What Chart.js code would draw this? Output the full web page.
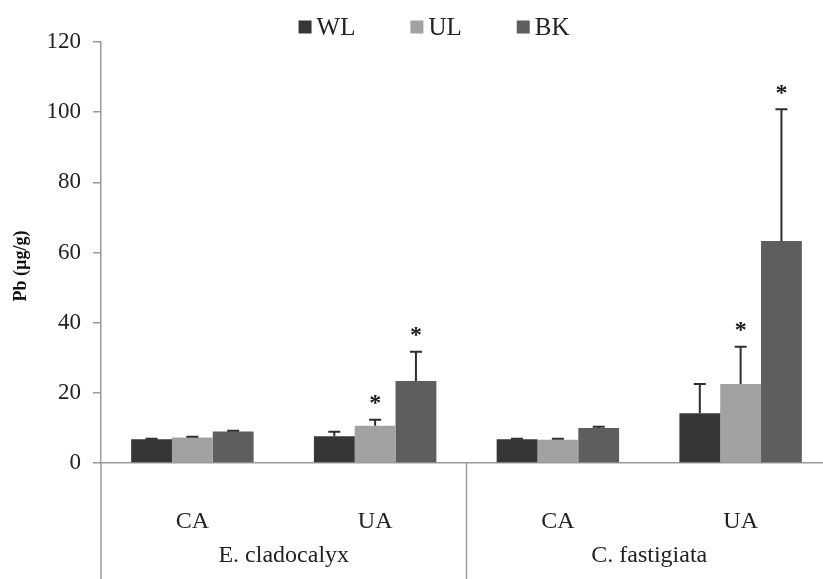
<!DOCTYPE html>
<html>
<head>
<meta charset="utf-8">
<script src="https://cdn.jsdelivr.net/npm/chart.js@4.4.0/dist/chart.umd.min.js"></script>
<style>
  html, body { margin: 0; padding: 0; background: #fff; overflow: hidden; }
  #wrap { width: 832px; height: 579px; position: relative; }
</style>
</head>
<body>
<div id="wrap"><canvas id="myChart"></canvas></div>
<script>
// sites within each species, and the species groups underneath
const sites = ['CA', 'UA', 'CA', 'UA'];
const species = ['E. cladocalyx', 'C. fastigiata'];
const yTicks = [0, 20, 40, 60, 80, 100, 120];

// Pb (µg/g) per tissue
const wl = [6.8, 7.6, 6.8, 14.2];
const ul = [7.3, 10.6, 6.6, 22.5];
const bk = [9.0, 23.4, 10.0, 63.3];

// error bar (upper half only)
const wlErr = [0.1, 1.3, 0.1, 8.3];
const ulErr = [0.2, 1.7, 0.3, 10.6];
const bkErr = [0.2, 8.3, 0.3, 37.5];

// significance marks
const wlStar = [0, 0, 0, 0];
const ulStar = [0, 1, 0, 1];
const bkStar = [0, 1, 0, 1];

const serif = '"Liberation Serif", "DejaVu Serif", serif';
const axisGrey = '#9a9a9a';

const errorBars = {
    id: 'errorBars',
    afterDatasetsDraw(chart) {
        const ctx = chart.ctx;
        const yScale = chart.scales.y;
        chart.data.datasets.forEach((ds, di) => {
            const meta = chart.getDatasetMeta(di);
            meta.data.forEach((bar, i) => {
                const top = yScale.getPixelForValue(ds.data[i] + ds.err[i]);
                ctx.save();
                ctx.strokeStyle = '#2e2e2e';
                ctx.lineWidth = 2;
                ctx.beginPath();
                ctx.moveTo(bar.x, bar.y);
                ctx.lineTo(bar.x, top);
                ctx.moveTo(bar.x - 6, top);
                ctx.lineTo(bar.x + 6, top);
                ctx.stroke();
                if (ds.star[i]) {
                    ctx.fillStyle = '#1a1a1a';
                    ctx.font = 'bold 24px ' + serif;
                    ctx.textAlign = 'center';
                    ctx.textBaseline = 'middle';
                    ctx.fillText('*', bar.x, top - 16);
                }
                ctx.restore();
            });
        });
    }
};

// legend, y title, species row and the group separators
const extras = {
    id: 'extras',
    afterDraw(chart) {
        const ctx = chart.ctx;
        const area = chart.chartArea;
        const bottom = chart.height;
        ctx.save();

        // legend
        ctx.font = '25px ' + serif;
        ctx.textBaseline = 'middle';
        ctx.textAlign = 'left';
        const box = 13, gap = 5, space = 55;
        const items = chart.data.datasets.map(ds => ({ ds, w: box + gap + ctx.measureText(ds.label).width }));
        const total = items.reduce((s, it) => s + it.w, 0) + space * (items.length - 1);
        let lx = 434 - total / 2;
        items.forEach(it => {
            ctx.fillStyle = it.ds.backgroundColor;
            ctx.fillRect(lx, 27 - box / 2, box, box);
            ctx.fillStyle = '#222';
            ctx.fillText(it.ds.label, lx + box + gap, 28);
            lx += it.w + space;
        });

        // y title
        ctx.save();
        ctx.translate(21, 266);
        ctx.rotate(-Math.PI / 2);
        ctx.textAlign = 'center';
        ctx.fillStyle = '#111';
        ctx.font = 'bold 18px ' + serif;
        ctx.fillText('Pb (µg/g)', 0, 0);
        ctx.restore();

        // group separators
        ctx.strokeStyle = axisGrey;
        ctx.lineWidth = 1.5;
        ctx.beginPath();
        ctx.moveTo(area.left, area.bottom);
        ctx.lineTo(area.left, bottom);
        const step = (area.right - area.left) / sites.length;
        for (let g = 1; g < species.length; g++) {
            const sx = area.left + step * 2 * g;
            ctx.moveTo(sx, area.bottom);
            ctx.lineTo(sx, bottom);
        }
        ctx.stroke();

        // species labels
        ctx.fillStyle = '#222';
        ctx.font = '24px ' + serif;
        ctx.textAlign = 'center';
        species.forEach((name, g) => {
            const cx = area.left + step * (2 * g + 1);
            ctx.fillText(name, cx, area.bottom + 93);
        });
        ctx.restore();
    }
};

const ctx = document.getElementById('myChart').getContext('2d');
const myChart = new Chart(ctx, {
    type: 'bar',
    data: {
        labels: sites,
        datasets: [
            { label: 'WL', data: wl, err: wlErr, star: wlStar, backgroundColor: '#363636' },
            { label: 'UL', data: ul, err: ulErr, star: ulStar, backgroundColor: '#a2a2a2' },
            { label: 'BK', data: bk, err: bkErr, star: bkStar, backgroundColor: '#5e5e5e' }
        ]
    },
    options: {
        responsive: true,
        maintainAspectRatio: false,
        animation: false,
        layout: { padding: { top: 42, right: 0, left: 0, bottom: 0 } },
        datasets: {
            bar: { categoryPercentage: 0.67, barPercentage: 1.0 }
        },
        plugins: {
            tooltip: { enabled: false },
            legend: { display: false }
        },
        scales: {
            x: {
                grid: { display: false, drawTicks: false },
                border: { color: axisGrey, width: 1.5 },
                ticks: {
                    color: '#222',
                    padding: 44,
                    font: { family: serif, size: 24 }
                },
                afterFit(scale) { scale.height = 116; }
            },
            y: {
                min: 0,
                max: 120,
                afterBuildTicks(scale) { scale.ticks = yTicks.map(v => ({ value: v })); },
                grid: { drawOnChartArea: false, drawTicks: true, tickLength: 8, color: axisGrey, lineWidth: 1.5 },
                border: { color: axisGrey, width: 1.5 },
                ticks: {
                    color: '#222',
                    padding: 12,
                    font: { family: serif, size: 23 }
                },
                afterFit(scale) { scale.width = 101; }
            }
        }
    },
    plugins: [errorBars, extras]
});
</script>
</body>
</html>
